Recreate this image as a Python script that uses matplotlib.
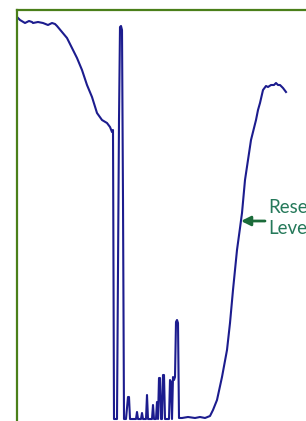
import matplotlib
matplotlib.use("Agg")
import matplotlib.pyplot as plt

# water level trace (time in minutes, level in arbitrary units)
time = [1, 3, 8, 12, 15, 16, 21, 26, 31, 35, 38, 40, 45, 50, 55, 60, 65, 70, 75, 80,
        85, 90, 93, 95, 96, 97, 100, 102, 103, 104, 105, 106, 107,
        109, 111, 112, 113, 119, 120, 121, 124, 125, 126, 129, 130, 131,
        135, 136, 137, 139, 140, 141, 142, 143, 144, 145, 146, 147, 148,
        152, 153, 154, 155, 156, 157, 158, 159, 160, 161, 162,
        165, 171, 178, 183, 188, 193, 196, 200, 205, 210, 213, 216, 220, 223,
        225, 228, 231, 234, 237, 239, 241, 243, 246, 249, 251, 254, 257, 259,
        261, 263, 266, 269]
level = [403, 401, 398, 400, 399, 398, 399, 398, 396, 398, 397, 395, 389, 383, 373, 363, 351, 336, 324, 308,
         301, 298, 294, 289, 291, 2, 2, 301, 394, 395, 391, 221, 2,
         2, 24, 24, 2, 2, 9, 2, 2, 8, 2, 2, 26, 2,
         2, 16, 2, 2, 19, 2, 43, 43, 2, 2, 46, 46, 2,
         2, 41, 39, 2, 44, 41, 44, 99, 101, 98, 3,
         3, 4, 3, 4, 3, 5, 11, 21, 44, 71, 98, 131, 171, 193,
         208, 241, 261, 281, 293, 301, 311, 318, 331, 335, 334, 336, 336, 338,
         336, 336, 333, 329]

label_text = "Reservoir\nLevel"
label_pos = (251, 203)
arrow_tail = (248, 200)
arrow_head = (224, 200)

fig = plt.figure(figsize=(3.06, 4.21), dpi=100)
ax = fig.add_axes([17 / 306, -10 / 421, 313 / 306, 1.0])

ax.plot(time, level, color="#1c1c8e", lw=1.5, solid_joinstyle="round")

ax.set_xlim(0, 313)
ax.set_ylim(-10, 411)

for side in ["left", "top"]:
    ax.spines[side].set_color("#4a7f1a")
    ax.spines[side].set_linewidth(1.6)
for side in ["right", "bottom"]:
    ax.spines[side].set_visible(False)
ax.set_xticks([])
ax.set_yticks([])

ax.annotate("", xy=arrow_head, xytext=arrow_tail,
            arrowprops=dict(arrowstyle="-|>", color="#1b6b3a", lw=2,
                            mutation_scale=14, shrinkA=0, shrinkB=0))
ax.text(label_pos[0], label_pos[1], label_text, color="#25795a",
        fontsize=13.5, family="Lato", ha="left", va="center",
        linespacing=1.3, clip_on=False)

fig.savefig("out.png", dpi=100)
